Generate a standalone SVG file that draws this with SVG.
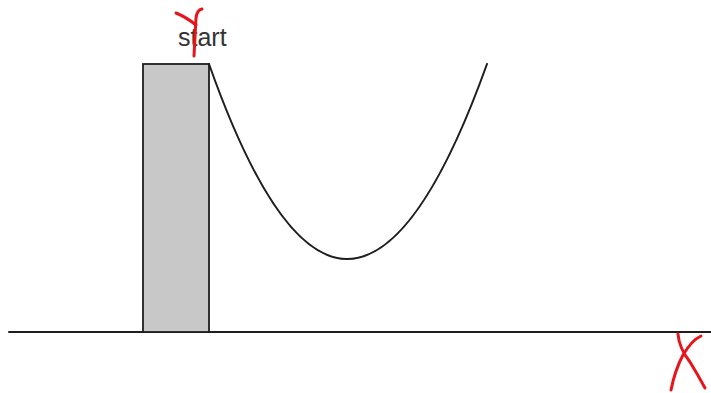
<svg xmlns="http://www.w3.org/2000/svg" width="711" height="393" viewBox="0 0 711 393">
<style>
.ink{fill:none;stroke:#1e1e1e;stroke-width:2;stroke-linecap:round}
.box{fill:#c8c8c8;stroke:#1e1e1e;stroke-width:1.8}
.red{fill:none;stroke:#e8141c;stroke-width:3;stroke-linecap:round;stroke-linejoin:round}
.lbl{font-family:"Liberation Sans",Arial,sans-serif;font-size:25px;fill:#333}
</style>
<rect width="711" height="393" fill="#fff"/>
<g id="ground"><line class="ink" x1="9" y1="332" x2="711" y2="332"/></g>
<g id="block"><rect class="box" x="143" y="64" width="66" height="268"/></g>
<g id="connectors">
<path class="ink" d="M209,64 Q278,259 347,259 Q417,259 487,64"/>
</g>
<g id="label"><text class="lbl" x="178" y="46">start</text></g>
<g id="marks">
<path class="red" d="M176,13 Q186,17 196,25"/>
<path class="red" d="M202,9 Q197,10 196,18 Q195,38 194,56"/>
<path class="red" d="M678,334 Q679,348 690,362 Q698,375 705,388"/>
<path class="red" d="M701,336 Q692,340 683,355 Q675,370 671,390"/>
</g>
</svg>
